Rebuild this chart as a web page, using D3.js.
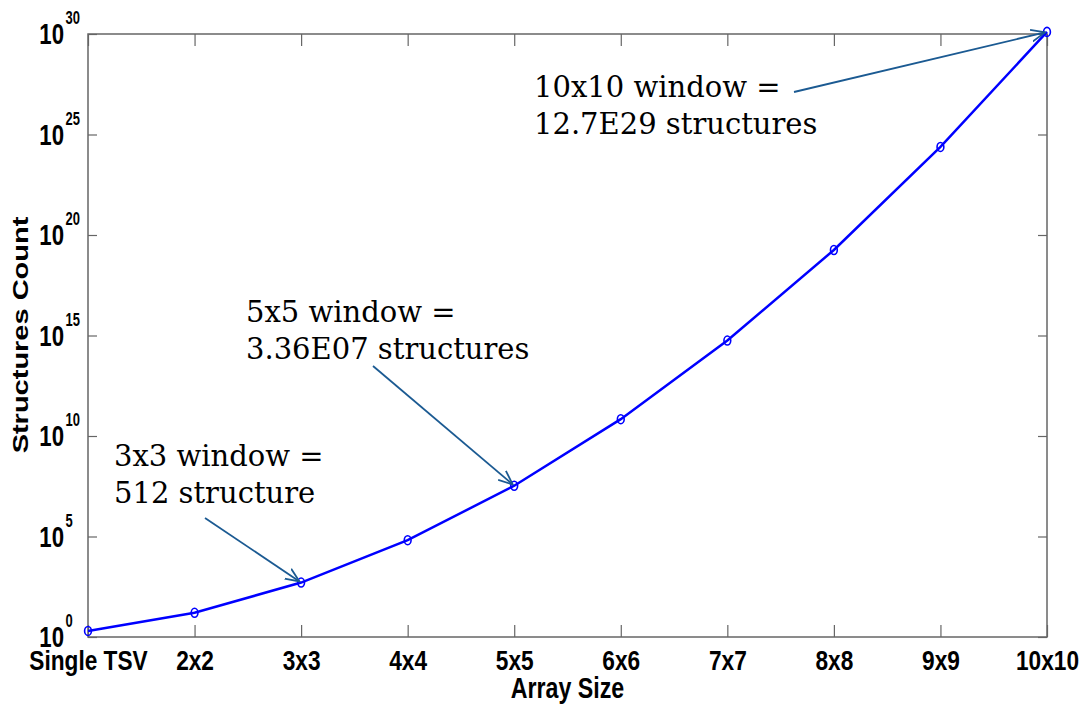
<!DOCTYPE html>
<html>
<head>
<meta charset="utf-8">
<script src="https://cdn.jsdelivr.net/npm/d3@7"></script>
<style>
body { margin: 0; background: #fff; }
#canvas { width: 1087px; height: 711px; }
</style>
</head>
<body>
<div id="canvas"></div>
<script>
// values
const categories = ["Single TSV", "2x2", "3x3", "4x4", "5x5", "6x6", "7x7", "8x8", "9x9", "10x10"];
const counts = [2, 16, 512, 6.55e4, 3.36e7, 6.87e10, 5.6e14, 1.8e19, 2.4e24, 1.27e30];
const yTicks = [1e0, 1e5, 1e10, 1e15, 1e20, 1e25, 1e30];

// annotation text, which point it aims at, and where the text sits
const noteLines = [
    ["3x3 window =", "512 structure"],
    ["5x5 window =", "3.36E07 structures"],
    ["10x10 window =", "12.7E29 structures"]
];
const noteTarget = ["3x3", "5x5", "10x10"];
const notePos = [[114, 466], [246, 322], [534, 97]];
const noteArrowStart = [[205, 518], [373, 366], [794, 92]];

const width = 1087, height = 711;
const plotLeft = 88, plotRight = 1047, plotTop = 34, plotBottom = 637;
const axisColor = "#666";
const arrowColor = "#1b5a92";
const sans = "'Liberation Sans', Arial, sans-serif";

const svg = d3.select("#canvas")
.append("svg")
.attr("width", width)
.attr("height", height);

const x = d3.scalePoint().domain(categories).range([plotLeft, plotRight]);
const y = d3.scaleLog().domain([1, 1e30]).range([plotBottom, plotTop]);

// arrow head
svg.append("defs").append("marker")
.attr("id", "arr")
.attr("viewBox", "0 -7 15 14")
.attr("refX", 14)
.attr("refY", 0)
.attr("markerWidth", 15)
.attr("markerHeight", 14)
.attr("markerUnits", "userSpaceOnUse")
.attr("orient", "auto")
.append("path")
.attr("d", "M0,-6L14,0L0,6")
.attr("fill", "none")
.attr("stroke", arrowColor)
.attr("stroke-width", 1.8);

function styleAxis(g) {
    g.select(".domain").remove();
    g.selectAll(".tick line").attr("stroke", axisColor).attr("stroke-width", 1.2);
}

// box ticks, MATLAB style (inward on all sides)
svg.append("g")
.attr("transform", `translate(0,${plotBottom})`)
.call(d3.axisBottom(x).tickSize(-12).tickPadding(0))
.call(styleAxis)
.call(g => g.selectAll(".tick text")
    .attr("y", 33)
    .attr("dy", 0)
    .attr("fill", "#000")
    .attr("transform", "scale(0.81,1)")
    .style("font-family", sans)
    .style("font-weight", "bold")
    .style("font-size", "28px"));

svg.append("g")
.attr("transform", `translate(0,${plotTop})`)
.call(d3.axisTop(x).tickSize(-12).tickFormat(""))
.call(styleAxis);

svg.append("g")
.attr("transform", `translate(${plotLeft},0)`)
.call(d3.axisLeft(y).tickValues(yTicks).tickSize(-9).tickFormat(""))
.call(styleAxis);

svg.append("g")
.attr("transform", `translate(${plotRight},0)`)
.call(d3.axisRight(y).tickValues(yTicks).tickSize(-9).tickFormat(""))
.call(styleAxis);

svg.append("rect")
.attr("x", plotLeft)
.attr("y", plotTop)
.attr("width", plotRight - plotLeft)
.attr("height", plotBottom - plotTop)
.attr("fill", "none")
.attr("stroke", axisColor)
.attr("stroke-width", 1.5);

// y tick labels as 10^n
const yLab = svg.append("g").selectAll("g")
.data(yTicks)
.join("g")
.attr("transform", d => `translate(64,${y(d)})`);

yLab.append("text")
.text("10")
.attr("text-anchor", "end")
.attr("y", 10)
.attr("transform", "scale(0.74,1)")
.style("font-family", sans)
.style("font-weight", "bold")
.style("font-size", "30px");

yLab.append("text")
.text(d => Math.round(Math.log10(d)))
.attr("x", 2)
.attr("y", -10)
.attr("transform", "scale(0.72,1)")
.style("font-family", sans)
.style("font-weight", "bold")
.style("font-size", "18px");

// axis titles
svg.append("text")
.text("Array Size")
.attr("text-anchor", "middle")
.attr("transform", `translate(${(plotLeft + plotRight) / 2},698) scale(0.8,1)`)
.style("font-family", sans)
.style("font-weight", "bold")
.style("font-size", "29px");

svg.append("text")
.text("Structures Count")
.attr("text-anchor", "middle")
.attr("transform", "translate(28,335) rotate(-90) scale(1,0.74)")
.style("font-family", sans)
.style("font-weight", "bold")
.style("font-size", "29px");

// series
const line = d3.line()
.x((d, i) => x(categories[i]))
.y(d => y(d));

svg.append("path")
.datum(counts)
.attr("d", line)
.attr("fill", "none")
.attr("stroke", "#0000ff")
.attr("stroke-width", 2.5);

svg.append("g").selectAll("ellipse")
.data(counts)
.join("ellipse")
.attr("cx", (d, i) => x(categories[i]))
.attr("cy", d => y(d))
.attr("rx", 3.4)
.attr("ry", 4.5)
.attr("fill", "none")
.attr("stroke", "#0000ff")
.attr("stroke-width", 1.6);

// annotations
for (let i = 0; i < noteLines.length; i++) {
    const k = categories.indexOf(noteTarget[i]);
    const tx = x(noteTarget[i]);
    const ty = y(counts[k]);
    const sx = noteArrowStart[i][0];
    const sy = noteArrowStart[i][1];
    const len = Math.sqrt((tx - sx) * (tx - sx) + (ty - sy) * (ty - sy));
    const back = 2;

    svg.append("line")
    .attr("x1", sx)
    .attr("y1", sy)
    .attr("x2", tx - back * (tx - sx) / len)
    .attr("y2", ty - back * (ty - sy) / len)
    .attr("stroke", arrowColor)
    .attr("stroke-width", 1.8)
    .attr("marker-end", "url(#arr)");

    const t = svg.append("text")
    .attr("x", notePos[i][0])
    .attr("y", notePos[i][1])
    .style("font-family", "'DejaVu Serif', serif")
    .style("font-size", "29px")
    .attr("fill", "#000");

    noteLines[i].forEach((s, j) => {
        t.append("tspan")
        .attr("x", notePos[i][0])
        .attr("y", notePos[i][1] + j * 37)
        .text(s);
    });
}
</script>
</body>
</html>
